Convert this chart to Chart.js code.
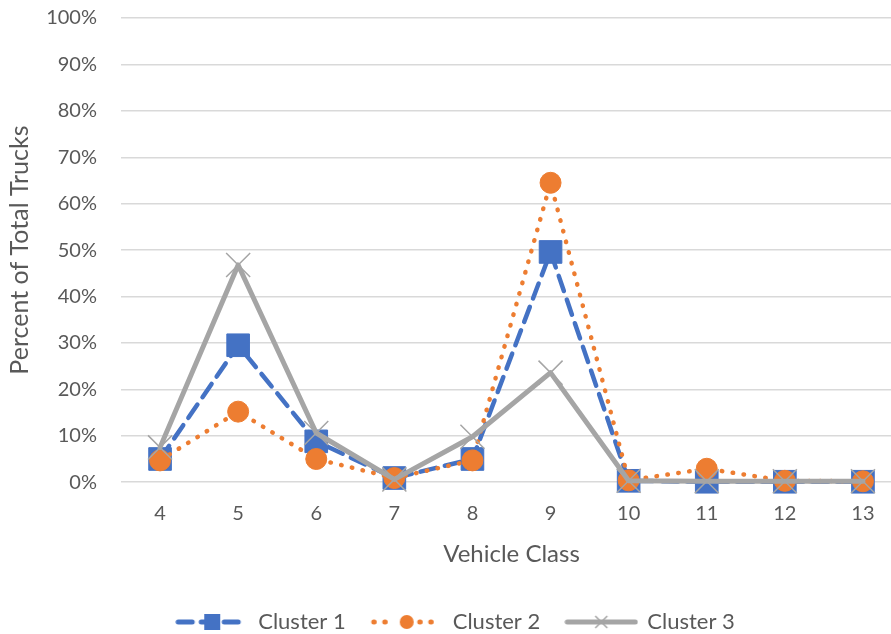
<!DOCTYPE html>
<html>
<head>
<meta charset="utf-8">
<script src="https://cdn.jsdelivr.net/npm/chart.js@4/dist/chart.umd.min.js"></script>
<style>
  html, body { margin: 0; padding: 0; background: #ffffff; overflow: hidden; }
  #frame { width: 891px; height: 634px; overflow: hidden; }
  #c { display: block; }
</style>
</head>
<body>
<div id="frame"><canvas id="c" width="902" height="634"></canvas></div>
<script>
// Share of total trucks by FHWA vehicle class, per cluster (percent)
const vehicleClasses = ['4', '5', '6', '7', '8', '9', '10', '11', '12', '13'];
const cluster1 = [5.0, 29.5, 8.8, 0.9, 5.0, 49.6, 0.3, 0.1, 0.1, 0.1];
const cluster2 = [4.7, 15.2, 5.0, 0.9, 4.7, 64.5, 0.4, 2.9, 0.3, 0.2];
const cluster3 = [7.5, 46.8, 10.6, 0.6, 9.8, 23.6, 0.3, 0.2, 0.2, 0.2];
const seriesNames = ['Cluster 1', 'Cluster 2', 'Cluster 3'];
const yTickValues = [0, 10, 20, 30, 40, 50, 60, 70, 80, 90, 100];

const BLUE = '#4472C4';
const ORANGE = '#ED7D31';
const GRAY = '#A5A5A5';
const TEXT = '#595959';
const FONT = 'Lato, "Open Sans", sans-serif';

// Small line-plus-marker swatches for the legend
function legendSwatch(color, dash, marker) {
  const cv = document.createElement('canvas');
  cv.width = 74; cv.height = 20;
  const g = cv.getContext('2d');
  g.strokeStyle = color;
  g.lineWidth = 5;
  g.lineCap = 'round';
  g.setLineDash(dash);
  g.beginPath();
  if (marker === 'circle') {
    // dotted line: two dots either side of the marker
    g.moveTo(4, 10); g.lineTo(24, 10);
    g.moveTo(50, 10); g.lineTo(70, 10);
  } else {
    g.moveTo(3, 10); g.lineTo(71, 10);
  }
  g.stroke();
  g.setLineDash([]);
  g.fillStyle = color;
  if (marker === 'rect') {
    g.fillRect(29, 2, 16, 16);
  } else if (marker === 'circle') {
    g.beginPath(); g.arc(37, 10, 7, 0, Math.PI * 2); g.fill();
  } else {
    g.lineWidth = 1.5; g.lineCap = 'butt';
    g.beginPath();
    g.moveTo(31, 4); g.lineTo(43, 16);
    g.moveTo(43, 4); g.lineTo(31, 16);
    g.stroke();
  }
  return cv;
}

const swatches = [
  legendSwatch(BLUE, [14, 9], 'rect'),
  legendSwatch(ORANGE, [0.5, 10.5], 'circle'),
  legendSwatch(GRAY, [], 'cross')
];

// Small horizontal nudge for the legend row
const legendShift = {
  id: 'legendShift',
  afterLayout(chart) {
    const lg = chart.legend;
    if (lg) { lg.left += 5; lg.right += 5; }
  }
};

new Chart(document.getElementById('c'), {
  type: 'line',
  data: {
    labels: vehicleClasses,
    datasets: [
      {
        label: seriesNames[0],
        data: cluster1,
        order: 3,
        borderColor: BLUE,
        borderWidth: 4.5,
        borderDash: [16, 9],
        borderCapStyle: 'round',
        pointStyle: 'rect',
        pointRadius: 16,
        pointBackgroundColor: BLUE,
        pointBorderColor: BLUE,
        pointBorderWidth: 1,
        tension: 0,
        fill: false,
        clip: false
      },
      {
        label: seriesNames[1],
        data: cluster2,
        order: 2,
        borderColor: ORANGE,
        borderWidth: 4.5,
        borderDash: [0.5, 10.5],
        borderCapStyle: 'round',
        pointStyle: 'circle',
        pointRadius: 10.5,
        pointBackgroundColor: ORANGE,
        pointBorderColor: ORANGE,
        pointBorderWidth: 1,
        tension: 0,
        fill: false,
        clip: false
      },
      {
        label: seriesNames[2],
        data: cluster3,
        order: 1,
        borderColor: GRAY,
        borderWidth: 5,
        borderCapStyle: 'round',
        borderJoinStyle: 'round',
        pointStyle: 'crossRot',
        pointRadius: 17,
        pointBackgroundColor: GRAY,
        pointBorderColor: GRAY,
        pointBorderWidth: 1.5,
        tension: 0,
        fill: false,
        clip: false
      }
    ]
  },
  options: {
    responsive: false,
    animation: false,
    devicePixelRatio: 1,
    layout: { autoPadding: false, padding: { top: 18, right: 0, bottom: -9, left: 0 } },
    scales: {
      x: {
        type: 'category',
        offset: true,
        grid: { display: false },
        border: { display: false },
        ticks: { color: TEXT, font: { family: FONT, size: 20 }, padding: 11, maxRotation: 0 },
        title: {
          display: true,
          text: 'Vehicle Class',
          color: TEXT,
          font: { family: FONT, size: 24 },
          padding: { top: 4, bottom: 16 }
        }
      },
      y: {
        min: 0,
        max: 100,
        afterBuildTicks: (axis) => { axis.ticks = yTickValues.map(v => ({ value: v })); },
        afterFit: (axis) => {
          axis.width = 121;
          axis.paddingTop = 0;
          axis.paddingBottom = 0;
        },
        grid: { color: '#D9D9D9', lineWidth: 1.5, drawTicks: false },
        border: { display: false },
        ticks: {
          color: TEXT,
          font: { family: FONT, size: 20 },
          padding: 24,
          callback: (v) => v + '%'
        },
        title: {
          display: true,
          text: 'Percent of Total Trucks',
          color: TEXT,
          font: { family: FONT, size: 25 },
          padding: { top: 5, bottom: 4 }
        }
      }
    },
    plugins: {
      tooltip: { enabled: false },
      legend: {
        position: 'bottom',
        labels: {
          usePointStyle: true,
          pointStyleWidth: 70,
          color: TEXT,
          font: { family: FONT, size: 22 },
          padding: 26,
          sort: (a, b) => a.datasetIndex - b.datasetIndex,
          generateLabels: (chart) => {
            const items = Chart.defaults.plugins.legend.labels.generateLabels(chart);
            items.forEach(it => { it.pointStyle = swatches[it.datasetIndex]; });
            return items;
          }
        }
      }
    }
  },
  plugins: [legendShift]
});
</script>
</body>
</html>
